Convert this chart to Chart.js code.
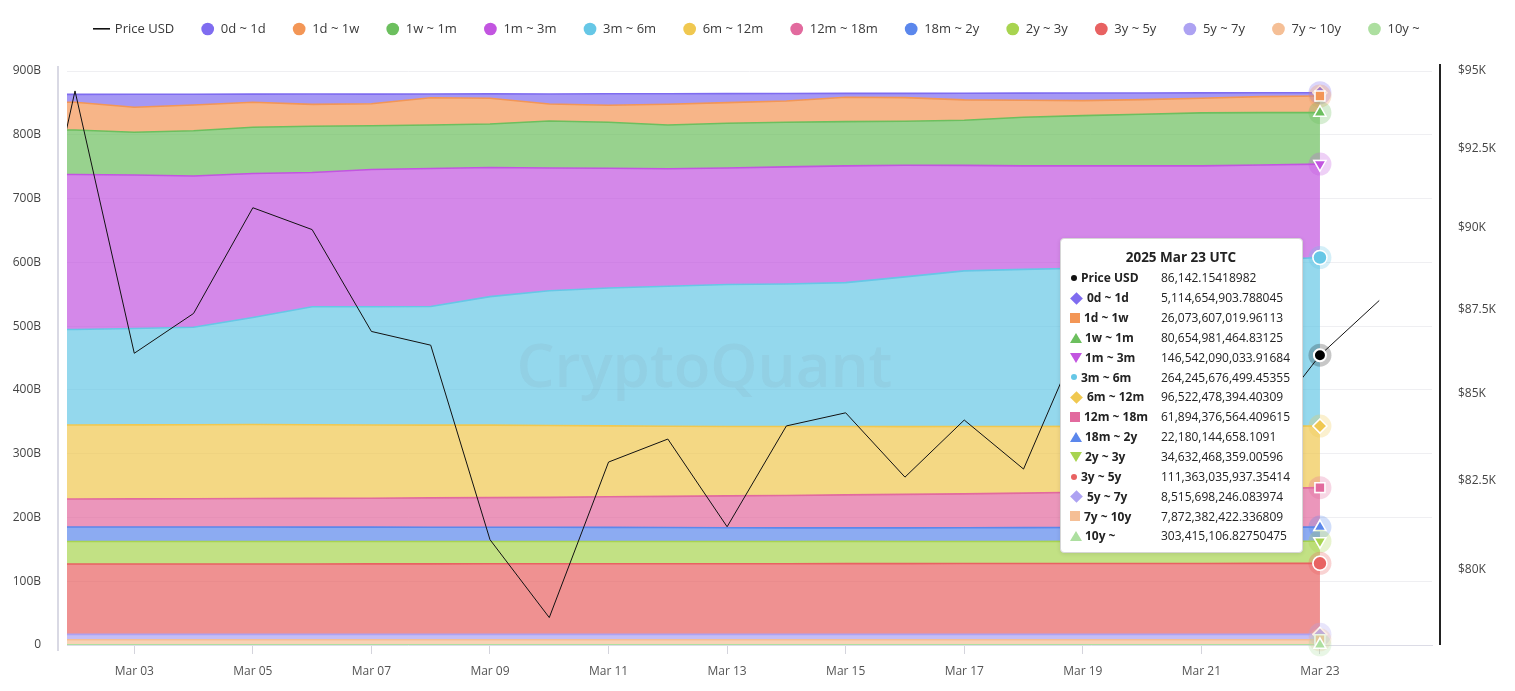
<!DOCTYPE html>
<html>
<head>
<meta charset="utf-8">
<script src="https://cdn.jsdelivr.net/npm/chart.js@4.4.1/dist/chart.umd.min.js"></script>
<style>
  html, body { margin: 0; padding: 0; background: #fff; }
  #wrap { position: relative; width: 1515px; height: 691px; overflow: hidden; }
  #c { display: block; }
  #tt {
    position: absolute; pointer-events: none; background: #fff;
    border: 1px solid #d6d6d6; border-radius: 4px;
    box-shadow: 0 1px 4px rgba(0,0,0,0.10);
    padding: 7px 10px 6px 9px; box-sizing: border-box; width: 243px;
    font-family: 'Open Sans', 'Noto Sans', sans-serif; color: #222; opacity: 0;
  }
  #tt .t { text-align: center; font-weight: 700; font-size: 13.5px; line-height: 22px; }
  #tt table { border-collapse: collapse; }
  #tt td { padding: 0; height: 19.85px; font-size: 12px; line-height: 19.85px; white-space: nowrap; }
  #tt td.l { font-weight: 700; width: 91px; }
  #tt .mk { display: inline-block; vertical-align: middle; position: relative; top: -1px; }
</style>
</head>
<body>
<div id="wrap">
  <canvas id="c" width="1515" height="691"></canvas>
  <div id="tt"></div>
</div>
<script>
// ---------------- DATA ----------------
const dates = ['2025-03-01','2025-03-02','2025-03-03','2025-03-04','2025-03-05','2025-03-06','2025-03-07','2025-03-08',
  '2025-03-09','2025-03-10','2025-03-11','2025-03-12','2025-03-13','2025-03-14','2025-03-15','2025-03-16',
  '2025-03-17','2025-03-18','2025-03-19','2025-03-20','2025-03-21','2025-03-22','2025-03-23','2025-03-24'];

const xTickLabels = ['Mar 03','Mar 05','Mar 07','Mar 09','Mar 11','Mar 13','Mar 15','Mar 17','Mar 19','Mar 21','Mar 23'];
const supplyTicks = [0, 100, 200, 300, 400, 500, 600, 700, 800, 900];           // billions USD
const priceTicks = [80000, 82500, 85000, 87500, 90000, 92500, 95000];

// BTC price (USD), Mar 01 .. Mar 24
const priceUSD = [86000, 94350, 86200, 87390, 90630, 89950, 86850, 86440, 80840, 78700, 83030, 83690,
  81200, 84070, 84450, 82600, 84240, 82830, 86850, 84200, 84050, 83900, 86142.15418982, 87780];

// Realized cap by UTXO age band (billions USD), Mar 01 .. Mar 23
const s0d1d   = [11.8, 12.5, 20.4, 16.9, 12.9, 16.2, 15.1, 5.9, 6.9, 15.8, 18.0, 16.6, 14.1, 11.7, 6.0, 6.7, 10.4, 11.1, 11.8, 10.4, 8.3, 6.0, 5.11];
const s1d1w   = [44.2, 43.4, 39.2, 40.3, 39.2, 34.4, 34.5, 42.8, 40.3, 26.6, 26.7, 32.4, 32.3, 33.4, 38.2, 37.0, 31.8, 26.6, 23.5, 22.9, 23.1, 25.1, 26.07];
const s1w1m   = [69.0, 69.8, 67.0, 71.1, 72.4, 72.5, 68.7, 68.2, 68.2, 73.7, 72.1, 68.7, 70.1, 70.0, 69.5, 69.0, 70.9, 76.4, 78.9, 81.1, 83.1, 82.0, 80.65];
const s1m3m   = [243.6, 243.0, 240.7, 237.2, 225.8, 210.4, 215.1, 216.4, 202.6, 192.4, 187.7, 184.2, 182.7, 183.5, 183.0, 175.1, 165.4, 162.3, 160.4, 157.0, 153.0, 149.6, 146.54];
const s3m6m   = [149.2, 149.7, 151.0, 152.7, 167.7, 185.1, 185.4, 185.9, 201.5, 211.3, 216.3, 219.6, 222.8, 223.4, 225.5, 234.8, 244.1, 246.3, 248.0, 251.2, 255.0, 259.9, 264.25];
const s6m12m  = [116.2, 116.1, 116.1, 116.1, 116.2, 115.4, 114.8, 114.2, 113.7, 112.7, 111.1, 109.8, 108.7, 108.2, 107.3, 106.2, 105.5, 104.4, 103.2, 101.6, 100.0, 98.2, 96.52];
const s12m18m = [43.8, 43.9, 44.1, 44.4, 44.7, 45.1, 45.4, 45.9, 46.3, 47.0, 47.9, 48.8, 49.9, 50.9, 51.8, 52.5, 53.1, 54.1, 55.3, 56.9, 58.5, 60.2, 61.89];
const s18m2y  = [22.8, 22.8, 22.8, 22.7, 22.7, 22.6, 22.6, 22.5, 22.4, 22.3, 22.2, 22.0, 21.6, 21.3, 21.2, 21.3, 21.5, 21.7, 21.8, 22.0, 22.1, 22.2, 22.18];
const s2y3y   = [35.2, 35.2, 35.2, 35.1, 35.1, 35.1, 35.0, 35.0, 35.0, 34.9, 34.9, 34.9, 34.8, 34.8, 34.8, 34.8, 34.7, 34.7, 34.7, 34.7, 34.7, 34.6, 34.63];
const s3y5y   = [110.3, 110.3, 110.3, 110.4, 110.4, 110.4, 110.5, 110.5, 110.6, 110.6, 110.7, 110.7, 110.8, 110.8, 110.9, 110.9, 111.0, 111.0, 111.1, 111.1, 111.2, 111.3, 111.36];
const s5y7y   = [8.45, 8.45, 8.46, 8.46, 8.47, 8.47, 8.48, 8.48, 8.48, 8.49, 8.49, 8.49, 8.50, 8.50, 8.50, 8.50, 8.51, 8.51, 8.51, 8.51, 8.51, 8.52, 8.52];
const s7y10y  = [7.95, 7.95, 7.94, 7.94, 7.93, 7.93, 7.92, 7.92, 7.91, 7.91, 7.90, 7.90, 7.90, 7.89, 7.89, 7.89, 7.88, 7.88, 7.88, 7.88, 7.87, 7.87, 7.87];
const s10y    = [0.31, 0.31, 0.31, 0.31, 0.31, 0.31, 0.31, 0.31, 0.31, 0.31, 0.31, 0.31, 0.31, 0.31, 0.31, 0.30, 0.30, 0.30, 0.30, 0.30, 0.30, 0.30, 0.30];

const seriesNames = ['0d ~ 1d','1d ~ 1w','1w ~ 1m','1m ~ 3m','3m ~ 6m','6m ~ 12m','12m ~ 18m','18m ~ 2y','2y ~ 3y','3y ~ 5y','5y ~ 7y','7y ~ 10y','10y ~'];
const seriesValues = [s0d1d, s1d1w, s1w1m, s1m3m, s3m6m, s6m12m, s12m18m, s18m2y, s2y3y, s3y5y, s5y7y, s7y10y, s10y];

// values shown in the hover box for 2025 Mar 23 (exact, USD)
const hoverDate = '2025-03-23';
const hoverExact = ['5,114,654,903.788045','26,073,607,019.96113','80,654,981,464.83125','146,542,090,033.91684',
  '264,245,676,499.45355','96,522,478,394.40309','61,894,376,564.409615','22,180,144,658.1091','34,632,468,359.00596',
  '111,363,035,937.35414','8,515,698,246.083974','7,872,382,422.336809','303,415,106.82750475'];

// ---------------- STYLE ----------------
const seriesColors = ['#7f6cf0','#f39656','#6cbf5e','#c255e0','#66c7e6','#f0c850','#e26a9e','#5b87ec','#a8d450','#e86262','#ada2f2','#f5bf96','#addfa0'];
const shapeCycle = ['diamond','square','triangle','triangleDown','circle'];
const FONT = "'Open Sans', 'Noto Sans', sans-serif";
const monthNames = ['Jan','Feb','Mar','Apr','May','Jun','Jul','Aug','Sep','Oct','Nov','Dec'];

function rgba(hex, a) {
  const n = parseInt(hex.slice(1), 16);
  return `rgba(${(n >> 16) & 255},${(n >> 8) & 255},${n & 255},${a})`;
}
const dayNum = d => Number(d.slice(8, 10));
const chartStyle = {
  diamond: ['rectRot', 0], square: ['rect', 0], triangle: ['triangle', 0], triangleDown: ['triangle', 180], circle: ['circle', 0]
};

// legend symbol for the price line (a short dark stroke)
const priceLegendLine = document.createElement('canvas');
priceLegendLine.width = 17; priceLegendLine.height = 2;
(() => { const g = priceLegendLine.getContext('2d'); g.fillStyle = '#111'; g.fillRect(0, 0, 17, 1.6); })();

// ---------------- DATASETS ----------------
const areaSets = seriesNames.map((name, k) => {
  const shape = shapeCycle[k % 5];
  const col = seriesColors[k];
  return {
    label: name,
    yAxisID: 'y',
    data: seriesValues[k].map((v, i) => ({ x: dayNum(dates[i]), y: v })),
    borderColor: col,
    backgroundColor: rgba(col, 0.7),
    borderWidth: 1.6,
    pointRadius: 0,
    pointHoverRadius: 7,
    pointStyle: chartStyle[shape][0],
    pointRotation: chartStyle[shape][1],
    pointHoverBackgroundColor: col,
    pointHoverBorderColor: '#ffffff',
    pointHoverBorderWidth: 1.5,
    tension: 0,
    legendColor: col,
    legendStyle: 'circle',
    markerShape: shape,
    legendRank: k + 1
  };
}).reverse();   // bottom of stack first
areaSets.forEach((ds, i) => { ds.fill = i === 0 ? 'origin' : '-1'; });

const priceSet = {
  label: 'Price USD',
  yAxisID: 'y1',
  data: priceUSD.map((v, i) => ({ x: dayNum(dates[i]), y: v })),
  borderColor: '#111111',
  backgroundColor: '#000000',
  borderWidth: 1,
  fill: false,
  pointRadius: 0,
  pointHoverRadius: 6,
  pointStyle: 'circle',
  pointHoverBackgroundColor: '#000000',
  pointHoverBorderColor: '#ffffff',
  pointHoverBorderWidth: 2,
  tension: 0,
  order: -1,
  legendColor: '#111111',
  legendStyle: 'line',
  markerShape: 'dot',
  legendRank: 0
};

const datasets = [...areaSets, priceSet];

// ---------------- PLUGINS ----------------
const legendBox = {
  id: 'legendBox',
  beforeInit(chart) {
    const lg = chart.legend;
    if (!lg) return;
    const fit = lg.fit.bind(lg);
    lg.fit = function () { fit(); this.height = 71; };
    const draw = lg.draw.bind(lg);
    lg.draw = function () { const c = this.ctx; c.save(); c.translate(0, -4.5); draw(); c.restore(); };
  }
};

const decor = {
  id: 'decor',
  afterDatasetsDraw(chart) {
    const { ctx, chartArea: a } = chart;
    // watermark
    ctx.save();
    ctx.font = `600 60px ${FONT}`;
    ctx.fillStyle = 'rgba(120,120,130,0.09)';
    ctx.textAlign = 'center';
    ctx.textBaseline = 'middle';
    ctx.fillText('CryptoQuant', a.left + a.width * 0.467, a.top + a.height * 0.52);
    ctx.restore();
    // hover halos + markers, drawn in legend order
    const act = chart.getActiveElements().slice().sort((p, q) =>
      chart.data.datasets[p.datasetIndex].legendRank - chart.data.datasets[q.datasetIndex].legendRank);
    act.forEach(({ datasetIndex, element }) => {
      const ds = chart.data.datasets[datasetIndex];
      ctx.save();
      ctx.beginPath();
      ctx.arc(element.x, element.y, 11.5, 0, Math.PI * 2);
      ctx.fillStyle = ds.legendStyle === 'line' ? 'rgba(0,0,0,0.22)' : rgba(ds.legendColor, 0.28);
      ctx.fill();
      element.draw(ctx);
      ctx.restore();
    });
  },
  afterDraw(chart) {
    const { ctx, chartArea: a } = chart;
    ctx.save();
    ctx.lineWidth = 2;
    ctx.strokeStyle = '#d9d9e4';
    ctx.beginPath(); ctx.moveTo(a.left - 9, a.top - 5); ctx.lineTo(a.left - 9, a.bottom + 6); ctx.stroke();
    ctx.strokeStyle = '#222222';
    ctx.beginPath(); ctx.moveTo(a.right + 8, a.top - 7); ctx.lineTo(a.right + 8, a.bottom); ctx.stroke();
    ctx.restore();
  }
};

// ---------------- TOOLTIP (HTML) ----------------
function markerHtml(shape, col) {
  switch (shape) {
    case 'dot': return `<span class="mk" style="width:6px;height:6px;border-radius:50%;background:${col};margin:0 4px 0 1px"></span>`;
    case 'circle': return `<span class="mk" style="width:6px;height:6px;border-radius:50%;background:${col};margin:0 4px 0 1px"></span>`;
    case 'diamond': return `<span class="mk" style="width:9px;height:9px;background:${col};transform:rotate(45deg);margin:0 6px 0 2px"></span>`;
    case 'square': return `<span class="mk" style="width:10px;height:10px;background:${col};margin:0 4px 0 0"></span>`;
    case 'triangle': return `<span class="mk" style="width:0;height:0;border-left:6px solid transparent;border-right:6px solid transparent;border-bottom:10px solid ${col};margin:0 3px 0 0"></span>`;
    case 'triangleDown': return `<span class="mk" style="width:0;height:0;border-left:6px solid transparent;border-right:6px solid transparent;border-top:10px solid ${col};margin:0 3px 0 0"></span>`;
  }
  return '';
}
function withCommas(str) {
  const [i, f] = String(str).split('.');
  return i.replace(/\B(?=(\d{3})+(?!\d))/g, ',') + (f ? '.' + f : '');
}
function titleFor(d) {
  return `${d.slice(0, 4)} ${monthNames[Number(d.slice(5, 7)) - 1]} ${d.slice(8, 10)} UTC`;
}
function externalTooltip({ chart, tooltip }) {
  const el = document.getElementById('tt');
  if (!tooltip.dataPoints || tooltip.opacity === 0) { el.style.opacity = 0; return; }
  const idx = tooltip.dataPoints[0].dataIndex;
  const d = dates[idx];
  let html = `<div class="t">${titleFor(d)}</div><table>`;
  tooltip.dataPoints.forEach(dp => {
    const ds = dp.dataset;
    let val;
    if (ds.legendStyle === 'line') {
      val = withCommas(priceUSD[idx]);
    } else {
      const k = seriesNames.indexOf(ds.label);
      val = d === hoverDate ? hoverExact[k] : withCommas((seriesValues[k][idx] * 1e9).toFixed(0));
    }
    html += `<tr><td class="l">${markerHtml(ds.markerShape, ds.legendColor)}${ds.label}</td><td>${val}</td></tr>`;
  });
  html += '</table>';
  el.innerHTML = html;
  el.style.opacity = 1;
  el.style.left = (tooltip.caretX - 17 - el.offsetWidth) + 'px';
  el.style.top = (tooltip.caretY - el.offsetHeight / 2) + 'px';
}

// ---------------- CHART ----------------
Chart.defaults.font.family = FONT;

const chart = new Chart(document.getElementById('c'), {
  type: 'line',
  data: { datasets },
  plugins: [legendBox, decor],
  options: {
    responsive: false,
    animation: false,
    events: [],
    layout: { padding: 0 },
    interaction: { mode: 'index', intersect: false },
    plugins: {
      legend: {
        position: 'top',
        labels: {
          usePointStyle: true,
          boxWidth: 13,
          boxHeight: 9,
          padding: 27,
          color: '#3a3a3a',
          font: { size: 13, family: FONT },
          generateLabels(ch) {
            const items = Chart.defaults.plugins.legend.labels.generateLabels(ch);
            items.forEach(it => {
              const ds = ch.data.datasets[it.datasetIndex];
              it.pointStyle = ds.legendStyle === 'line' ? priceLegendLine : ds.legendStyle;
              it.fillStyle = ds.legendColor;
              it.strokeStyle = ds.legendColor;
              it.lineWidth = 0;
              it.rotation = 0;
            });
            return items;
          },
          sort: (a, b, data) => data.datasets[a.datasetIndex].legendRank - data.datasets[b.datasetIndex].legendRank
        }
      },
      tooltip: {
        enabled: false,
        position: 'average',
        external: externalTooltip,
        itemSort: (a, b) => a.dataset.legendRank - b.dataset.legendRank
      }
    },
    scales: {
      x: {
        type: 'linear',
        min: 1.865,
        max: 24.89,
        afterBuildTicks: s => { s.ticks = xTickLabels.map(l => ({ value: Number(l.slice(4)) })); },
        afterFit: s => { s.height = 46; },
        ticks: {
          autoSkip: false, maxRotation: 0, padding: 10, color: '#555',
          font: { size: 12 },
          callback: v => xTickLabels.find(l => Number(l.slice(4)) === v)
        },
        grid: { drawOnChartArea: false, drawTicks: true, tickLength: 9, color: '#d4d4dc' },
        border: { display: true, color: '#dcdce6', width: 1 }
      },
      y: {
        stacked: true,
        position: 'left',
        min: 0,
        max: 900,
        afterBuildTicks: s => { s.ticks = supplyTicks.map(v => ({ value: v })); },
        afterFit: s => { s.width = 67; },
        ticks: { padding: 26, color: '#444', font: { size: 12 }, callback: v => v === 0 ? '0' : v + 'B' },
        grid: { color: '#efeff2', drawTicks: false },
        border: { display: false }
      },
      y1: {
        type: 'logarithmic',
        position: 'right',
        stacked: false,
        min: 77960,
        max: 95000,
        afterBuildTicks: s => { s.ticks = priceTicks.map(v => ({ value: v })); },
        afterFit: s => { s.width = 83; },
        ticks: { padding: 26, color: '#444', font: { size: 12 }, callback: v => '$' + (v / 1000) + 'K' },
        grid: { display: false, drawTicks: false },
        border: { display: false }
      }
    }
  }
});

// show the hover state at 2025 Mar 23
const hoverIndex = dates.indexOf(hoverDate);
const active = chart.data.datasets.map((ds, i) => ({ datasetIndex: i, index: hoverIndex }));
chart.setActiveElements(active);
chart.update();
chart.tooltip.setActiveElements(active, { x: 0, y: 0 });
</script>
</body>
</html>
